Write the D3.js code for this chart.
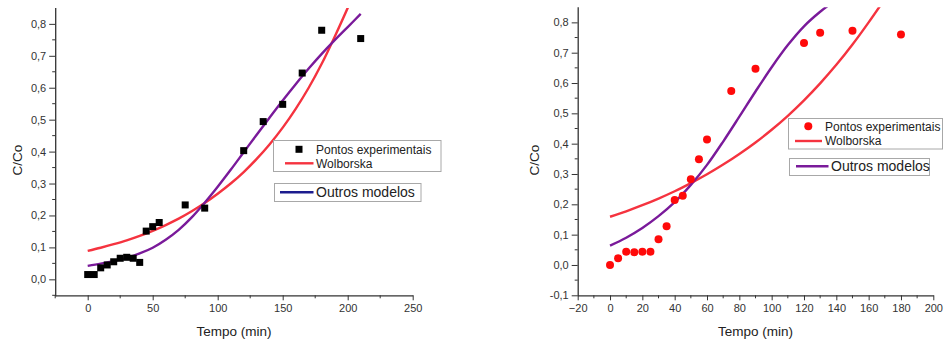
<!DOCTYPE html>
<html>
<head>
<meta charset="utf-8">
<script src="https://cdn.jsdelivr.net/npm/d3@7/dist/d3.min.js"></script>
<style>
  html, body { margin: 0; padding: 0; background: #fff; }
  svg { display: block; font-family: "Liberation Sans", Arial, sans-serif; }
</style>
</head>
<body>
<svg id="chart" width="944" height="347"></svg>
<script>
// ---- Panel A: experimental points (squares) and fitted curves ----
const timeA = [0, 5, 10, 15, 20, 25, 30, 35, 40, 45, 50, 55, 75, 90, 120, 135, 150, 165, 180, 210];
const ccoA  = [0.015, 0.015, 0.036, 0.045, 0.055, 0.066, 0.069, 0.066, 0.053, 0.151, 0.165, 0.178, 0.233, 0.223, 0.403, 0.494, 0.548, 0.646, 0.780, 0.754];

const wolbTimeA = [0, 10, 20, 30, 40, 50, 60, 70, 80, 90, 100, 110, 120, 130, 140, 150, 160, 170, 180, 190, 200, 205];
const wolbA     = [0.089, 0.099, 0.110, 0.122, 0.136, 0.152, 0.170, 0.190, 0.213, 0.239, 0.268, 0.300, 0.336, 0.377, 0.423, 0.475, 0.534, 0.600, 0.675, 0.760, 0.850, 0.897];

const otherTimeA = [0, 10, 20, 30, 40, 50, 60, 70, 80, 90, 100, 110, 120, 130, 140, 150, 160, 170, 180, 190, 200, 210];
const otherA     = [0.042, 0.049, 0.057, 0.067, 0.081, 0.099, 0.124, 0.155, 0.194, 0.240, 0.290, 0.343, 0.398, 0.453, 0.507, 0.560, 0.611, 0.660, 0.706, 0.749, 0.790, 0.831];

// ---- Panel B: experimental points (dots) and fitted curves ----
const timeB = [0, 5, 10, 15, 20, 25, 30, 35, 40, 45, 50, 55, 60, 75, 90, 120, 130, 150, 180];
const ccoB  = [0.0, 0.022, 0.044, 0.042, 0.044, 0.044, 0.085, 0.128, 0.214, 0.228, 0.283, 0.349, 0.414, 0.574, 0.647, 0.732, 0.766, 0.772, 0.760];

const wolbTimeB = [0, 10, 20, 30, 40, 50, 60, 70, 80, 90, 100, 110, 120, 130, 140, 150, 160, 170];
const wolbB     = [0.159, 0.177, 0.197, 0.219, 0.243, 0.270, 0.299, 0.331, 0.366, 0.404, 0.446, 0.492, 0.543, 0.599, 0.660, 0.727, 0.800, 0.877];

const otherTimeB = [0, 10, 20, 30, 40, 50, 60, 70, 80, 90, 100, 110, 120, 130, 140];
const otherB     = [0.064, 0.090, 0.122, 0.161, 0.207, 0.264, 0.330, 0.407, 0.489, 0.572, 0.652, 0.725, 0.787, 0.835, 0.875];

// ---- Axis tick values ----
const xTicksA = [0, 50, 100, 150, 200, 250];
const xMinorA = [-25, 25, 75, 125, 175, 225];
const yTicksA = [0.0, 0.1, 0.2, 0.3, 0.4, 0.5, 0.6, 0.7, 0.8];
const yMinorA = [-0.05, 0.05, 0.15, 0.25, 0.35, 0.45, 0.55, 0.65, 0.75];

const xTicksB = [-20, 0, 20, 40, 60, 80, 100, 120, 140, 160, 180, 200];
const xMinorB = [-10, 10, 30, 50, 70, 90, 110, 130, 150, 170, 190];
const yTicksB = [-0.1, 0.0, 0.1, 0.2, 0.3, 0.4, 0.5, 0.6, 0.7, 0.8];
const yMinorB = [-0.05, 0.05, 0.15, 0.25, 0.35, 0.45, 0.55, 0.65, 0.75];

const labels = {
  x: "Tempo (min)",
  y: "C/Co",
  points: "Pontos experimentais",
  wolb: "Wolborska",
  other: "Outros modelos"
};

const RED = "#f5333f";
const PURPLE = "#7a1a9a";
const NAVY = "#1c1c8e";
const AXIS = "#333";

const svg = d3.select("#chart");
const commaFmt = d => d3.format(".1f")(d).replace(".", ",").replace("−", "-");

function panel(cfg) {
  const x = d3.scaleLinear().domain(cfg.xDomain).range(cfg.xRange);
  const y = d3.scaleLinear().domain(cfg.yDomain).range(cfg.yRange);
  const g = svg.append("g");

  const clipId = "clip-" + cfg.id;
  svg.append("defs").append("clipPath").attr("id", clipId)
    .append("rect")
    .attr("x", cfg.xRange[0]).attr("y", cfg.yRange[1])
    .attr("width", cfg.xRange[1] - cfg.xRange[0])
    .attr("height", cfg.yRange[0] - cfg.yRange[1]);

  // x axis with outward major and minor ticks
  const xAxis = g.append("g").attr("transform", `translate(0,${cfg.yRange[0]})`)
    .call(d3.axisBottom(x).tickValues(cfg.xTicks).tickSize(5).tickSizeOuter(0).tickPadding(4)
      .tickFormat(d3.format("d")));
  xAxis.append("g").selectAll("line").data(cfg.xMinor).join("line")
    .attr("x1", d => x(d)).attr("x2", d => x(d)).attr("y1", 0).attr("y2", 3)
    .attr("stroke", AXIS);

  const yAxis = g.append("g").attr("transform", `translate(${cfg.xRange[0]},0)`)
    .call(d3.axisLeft(y).tickValues(cfg.yTicks).tickSize(6).tickSizeOuter(0).tickPadding(3)
      .tickFormat(commaFmt));
  yAxis.append("g").selectAll("line").data(cfg.yMinor).join("line")
    .attr("x1", 0).attr("x2", -3).attr("y1", d => y(d)).attr("y2", d => y(d))
    .attr("stroke", AXIS);

  [xAxis, yAxis].forEach(a => {
    a.select(".domain").attr("stroke", AXIS).attr("stroke-width", 1.3);
    a.selectAll(".tick line").attr("stroke", AXIS);
    a.selectAll("text").attr("fill", "#333").style("font-size", "11px")
      .style("font-family", "'Liberation Sans', Arial, sans-serif");
  });
  yAxis.select(".domain").attr("d", `M0.5,${cfg.yRange[0] + 1}V${cfg.yRange[1]}`);

  // axis titles
  g.append("text")
    .attr("x", (cfg.xRange[0] + cfg.xRange[1]) / 2 + cfg.xTitleShift)
    .attr("y", 336)
    .attr("text-anchor", "middle").attr("fill", "#222").style("font-size", "13.5px")
    .text(labels.x);
  g.append("text")
    .attr("transform", `translate(${cfg.yTitleX},160) rotate(-90)`)
    .attr("text-anchor", "middle").attr("fill", "#222").style("font-size", "13.5px")
    .text(labels.y);

  const plot = g.append("g").attr("clip-path", `url(#${clipId})`);
  const line = d3.line().x(d => x(d[0])).y(d => y(d[1])).curve(d3.curveCatmullRom.alpha(0.5));

  plot.append("path")
    .attr("d", line(d3.zip(cfg.wolbT, cfg.wolbV)))
    .attr("fill", "none").attr("stroke", RED).attr("stroke-width", 2.4);
  plot.append("path")
    .attr("d", line(d3.zip(cfg.otherT, cfg.otherV)))
    .attr("fill", "none").attr("stroke", PURPLE).attr("stroke-width", 2.4);

  const pts = d3.zip(cfg.t, cfg.v);
  if (cfg.marker === "square") {
    plot.selectAll("rect.pt").data(pts).join("rect").attr("class", "pt")
      .attr("x", d => x(d[0]) - 3.5).attr("y", d => y(d[1]) - 3.5)
      .attr("width", 7).attr("height", 7).attr("fill", "#000");
  } else {
    plot.selectAll("circle.pt").data(pts).join("circle").attr("class", "pt")
      .attr("cx", d => x(d[0])).attr("cy", d => y(d[1])).attr("r", 4)
      .attr("fill", "#ff0a0a");
  }

  // legends
  const L = cfg.legend;
  const lg = g.append("g");
  lg.append("rect").attr("x", L.box1[0]).attr("y", L.box1[1]).attr("width", L.box1[2]).attr("height", L.box1[3])
    .attr("fill", "#fff").attr("stroke", "#a8a8a8").attr("stroke-width", 1);
  if (cfg.marker === "square") {
    lg.append("rect").attr("x", L.sym[0] - 3.5).attr("y", L.sym[1] - 3.5).attr("width", 7).attr("height", 7).attr("fill", "#000");
  } else {
    lg.append("circle").attr("cx", L.sym[0]).attr("cy", L.sym[1]).attr("r", 4).attr("fill", "#ff0a0a");
  }
  lg.append("text").attr("x", L.textX).attr("y", L.sym[1] + 4.3).attr("fill", "#222")
    .style("font-size", "12px").text(labels.points);
  lg.append("line").attr("x1", L.redLine[0]).attr("x2", L.redLine[1]).attr("y1", L.redLine[2]).attr("y2", L.redLine[2])
    .attr("stroke", RED).attr("stroke-width", 2.4);
  lg.append("text").attr("x", L.textX).attr("y", L.redLine[2] + 4.3).attr("fill", "#222")
    .style("font-size", "12px").text(labels.wolb);

  lg.append("rect").attr("x", L.box2[0]).attr("y", L.box2[1]).attr("width", L.box2[2]).attr("height", L.box2[3])
    .attr("fill", "#fff").attr("stroke", "#a8a8a8").attr("stroke-width", 1);
  lg.append("line").attr("x1", L.otherLine[0]).attr("x2", L.otherLine[1]).attr("y1", L.otherLine[2]).attr("y2", L.otherLine[2])
    .attr("stroke", L.otherColor).attr("stroke-width", 2.4);
  lg.append("text").attr("x", L.otherTextX).attr("y", L.otherLine[2] + 5).attr("fill", "#222")
    .style("font-size", "14px").text(labels.other);
}

panel({
  id: "a",
  xDomain: [-25, 250], xRange: [55.2, 412.7],
  yDomain: [-0.05, 0.85], yRange: [295.3, 7.9],
  xTicks: xTicksA, xMinor: xMinorA, yTicks: yTicksA, yMinor: yMinorA,
  xTitleShift: 0, yTitleX: 21.5,
  t: timeA, v: ccoA, wolbT: wolbTimeA, wolbV: wolbA, otherT: otherTimeA, otherV: otherA,
  marker: "square",
  legend: {
    box1: [273.5, 140.5, 167.5, 31], sym: [299, 149.3], textX: 316,
    redLine: [285, 313.5, 163.3],
    box2: [274.5, 183.5, 146.5, 18], otherLine: [280, 313.5, 192.3], otherTextX: 316, otherColor: NAVY
  }
});

panel({
  id: "b",
  xDomain: [-20, 200], xRange: [577.7, 933.3],
  yDomain: [-0.1, 0.85], yRange: [295.3, 7.2],
  xTicks: xTicksB, xMinor: xMinorB, yTicks: yTicksB, yMinor: yMinorB,
  xTitleShift: 0, yTitleX: 539,
  t: timeB, v: ccoB, wolbT: wolbTimeB, wolbV: wolbB, otherT: otherTimeB, otherV: otherB,
  marker: "circle",
  legend: {
    box1: [788.5, 118.5, 154, 30.5], sym: [808.3, 126.3], textX: 825,
    redLine: [795, 822, 141],
    box2: [789.5, 158.5, 140, 17], otherLine: [796, 828.5, 166.3], otherTextX: 831, otherColor: PURPLE
  }
});
</script>
</body>
</html>
